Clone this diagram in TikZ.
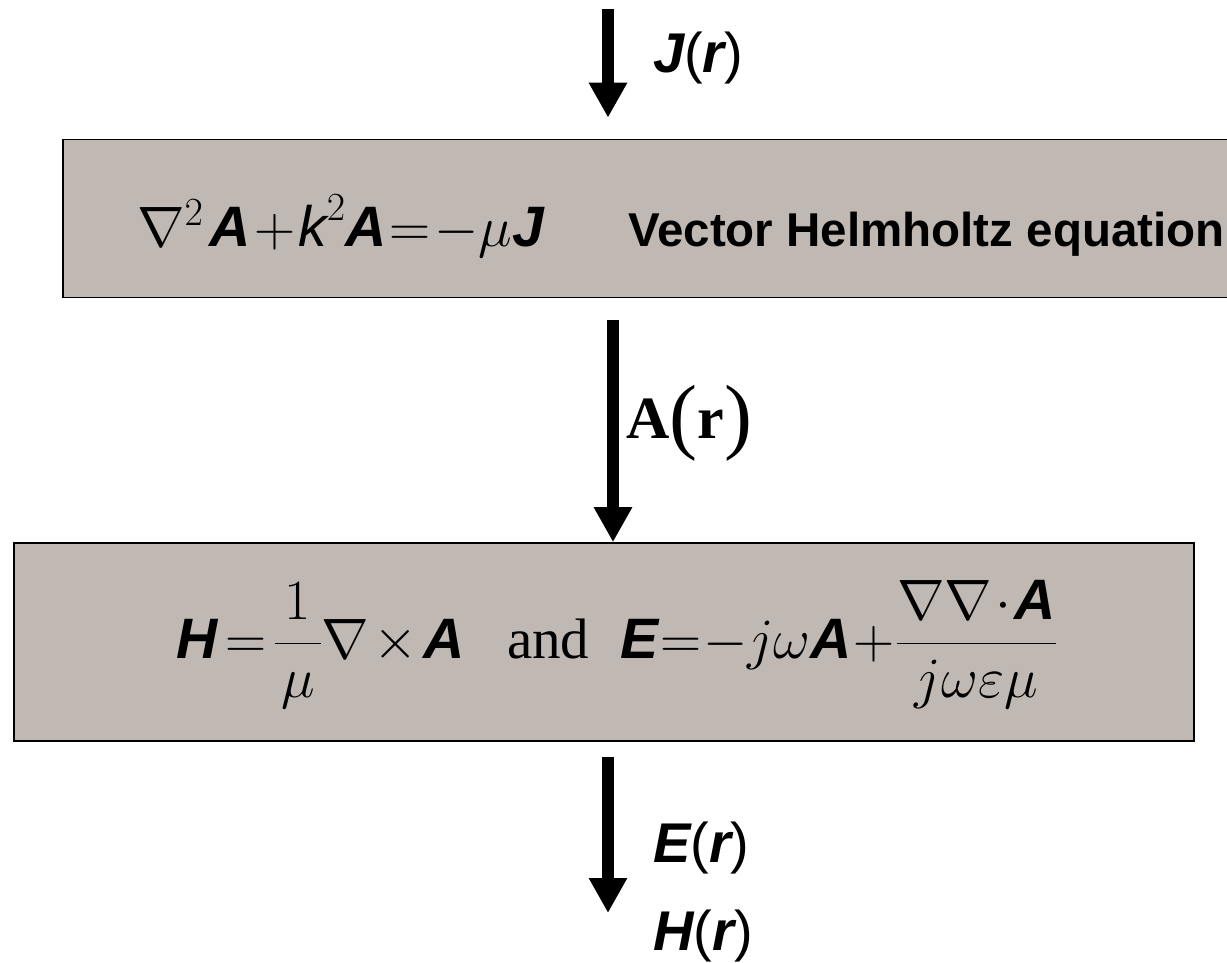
\documentclass[tikz,border=0pt]{standalone}
\usepackage{fix-cm}
\usepackage{amsmath}
\usepackage{fontspec}
\setmainfont{Liberation Serif}
\newfontfamily\hvfont{Liberation Sans}
\usetikzlibrary{arrows.meta}
\definecolor{boxgray}{RGB}{191,184,179}
\newcommand{\bv}[1]{\mbox{\hvfont\bfseries\itshape #1}}
\newcommand{\fsz}[1]{\fontsize{#1}{#1}\selectfont}

\begin{document}
\begin{tikzpicture}[x=1pt,y=-1pt,
    eqbox/.style={draw=black,line width=1.6pt,fill=boxgray},
    flow/.style={line width=12pt,-{Triangle[width=36pt,length=35pt]}},
    lab/.style={anchor=base west,inner sep=0pt,font=\hvfont\fsz{56}},
    formula/.style={anchor=base west,inner sep=0pt,font=\fsz{57}}]
  \useasboundingbox (0,0) rectangle (1227,963);
  \node[eqbox,minimum width=1197pt,minimum height=158pt] (topbox) at (661.5,218.5) {};
  \node[eqbox,minimum width=1180pt,minimum height=198pt] (botbox) at (604,642) {};
  \coordinate (jin) at (608,9);
  \coordinate (amid) at (613,0);
  \coordinate (ehout) at (608,913);
  \node[formula] (helm) at (137,246)
    {$\medmuskip=1mu\thickmuskip=1mu\nabla^2\mskip2mu\bv{A}+\mbox{\hvfont\itshape k}^2\bv{A}=-\mu\bv{J}$};
  \node[anchor=base west,inner sep=0pt,font=\hvfont\bfseries\fsz{47.5}] (helmname) at (628,246) {Vector Helmholtz equation};
  \node[formula] (fields) at (176,658)
    {$\displaystyle\bv{H}\mskip2.5mu{=}\mskip2.5mu\frac{\,1\,}{\mu}\nabla\mskip1.5mu{\times}\mskip1.5mu\bv{A}\mskip13.5mu\mbox{and}\mskip10mu
      \bv{E}\mskip0.5mu{=}\mskip0.5mu{-}j\omega\bv{A}\mskip0.5mu{+}\mskip0.5mu\frac{\nabla\nabla\mskip1mu{\cdot}\mskip1mu\bv{A}}{j\omega\varepsilon\mu}$};
  \node[lab] (jlab) at (653,73) {\bv{J}(\bv{r})};
  \node[anchor=base west,inner sep=0pt,font=\fsz{60}] (alab) at (626,438)
    {\textbf{A}\raisebox{-5pt}{\fsz{84}(}\textbf{r}\raisebox{-5pt}{\fsz{84})}};
  \node[lab] (elab) at (653,862) {\bv{E}(\bv{r})};
  \node[lab] (hlab) at (653,950) {\bv{H}(\bv{r})};
  \draw[flow,shorten >=21pt] (jin) -- (topbox.north -| jin);
  \draw[flow,shorten <=22pt] (topbox.south -| amid) -- (botbox.north -| amid);
  \draw[flow,shorten <=15pt] (botbox.south -| ehout) -- (ehout);
\end{tikzpicture}
\end{document}
